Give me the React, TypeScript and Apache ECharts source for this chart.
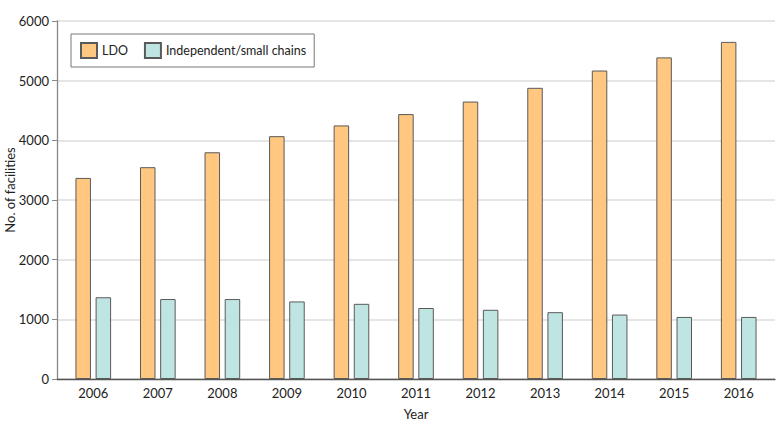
import React, { useEffect, useRef } from "react";
import * as echarts from "echarts";

const years = ["2006", "2007", "2008", "2009", "2010", "2011", "2012", "2013", "2014", "2015", "2016"];
const ldo = [3370, 3550, 3800, 4070, 4250, 4440, 4650, 4880, 5170, 5390, 5650];
const independent = [1370, 1340, 1340, 1300, 1260, 1190, 1160, 1120, 1080, 1040, 1040];
const yTicks = [0, 1000, 2000, 3000, 4000, 5000, 6000];

const FONT = "Lato, Roboto, sans-serif";
const FS = 13;

export default function App() {
  const ref = useRef<HTMLDivElement>(null);
  useEffect(() => {
    if (!ref.current) return;
    const chart = echarts.init(ref.current, undefined, { renderer: "svg" });
    const yMin = yTicks[0];
    const yMax = yTicks[yTicks.length - 1];
    chart.setOption({
      animation: false,
      textStyle: { fontFamily: FONT },
      grid: [
        { left: 57, right: 5, top: 21, bottom: 53, containLabel: false, outerBoundsMode: "none" },
        { left: 61, right: 9, top: 21, bottom: 53, containLabel: false, outerBoundsMode: "none" },
      ],
      legend: {
        left: 71,
        top: 34,
        padding: [8, 8, 8, 9],
        itemWidth: 16,
        itemHeight: 15,
        itemGap: 16,
        borderColor: "#777",
        borderWidth: 1,
        borderRadius: 0,
        textStyle: { fontSize: 12.5, color: "#222", fontFamily: FONT },
        data: [
          { name: "LDO", icon: "rect" },
          { name: "Independent/small chains", icon: "rect" },
        ],
      },
      graphic: [
        {
          type: "text",
          x: 10,
          y: 190,
          rotation: Math.PI / 2,
          style: {
            text: "No. of facilities",
            fontSize: FS,
            fontFamily: FONT,
            fill: "#222",
            align: "center",
            verticalAlign: "middle",
          },
        },
      ],
      xAxis: [
        {
          type: "category",
          gridIndex: 0,
          data: years,
          axisLine: { show: true, lineStyle: { color: "#555", width: 1.3 } },
          axisTick: { show: false },
          axisLabel: { show: false },
          splitLine: { show: false },
          name: "Year",
          nameLocation: "middle",
          nameGap: 28,
          nameTextStyle: { fontSize: FS, color: "#222", fontFamily: FONT },
        },
        {
          type: "category",
          gridIndex: 1,
          data: years,
          axisLine: { show: false },
          axisTick: { show: false },
          axisLabel: { show: true, fontSize: FS, color: "#222", margin: 7, fontFamily: FONT },
          splitLine: { show: false },
        },
      ],
      yAxis: [
        {
          type: "value",
          gridIndex: 0,
          min: yMin,
          max: yMax,
          interval: 1000,
          axisLine: { show: true, lineStyle: { color: "#888", width: 1.3 } },
          axisTick: { show: true, length: 5, lineStyle: { color: "#888" } },
          axisLabel: {
            fontSize: FS,
            color: "#222",
            margin: 8,
            fontFamily: FONT,
            formatter: (v: number) => String(v),
          },
          splitLine: { show: true, lineStyle: { color: "#dcdcdc", width: 1.5 } },
        },
        {
          type: "value",
          gridIndex: 1,
          min: yMin,
          max: yMax,
          interval: 1000,
          show: false,
          splitLine: { show: false },
        },
      ],
      series: [
        {
          name: "LDO",
          type: "bar",
          xAxisIndex: 1,
          yAxisIndex: 1,
          data: ldo,
          barWidth: 15.5,
          barGap: "30%",
          itemStyle: { color: "#FFC77F", borderColor: "#5a5a5a", borderWidth: 1 },
        },
        {
          name: "Independent/small chains",
          type: "bar",
          xAxisIndex: 1,
          yAxisIndex: 1,
          data: independent,
          barWidth: 15.5,
          barGap: "30%",
          itemStyle: { color: "#BFE5E3", borderColor: "#5a5a5a", borderWidth: 1 },
        },
      ],
    });
    return () => chart.dispose();
  }, []);
  return <div ref={ref} style={{ width: 780, height: 432, position: "absolute", left: 0, top: 0 }} />;
}
